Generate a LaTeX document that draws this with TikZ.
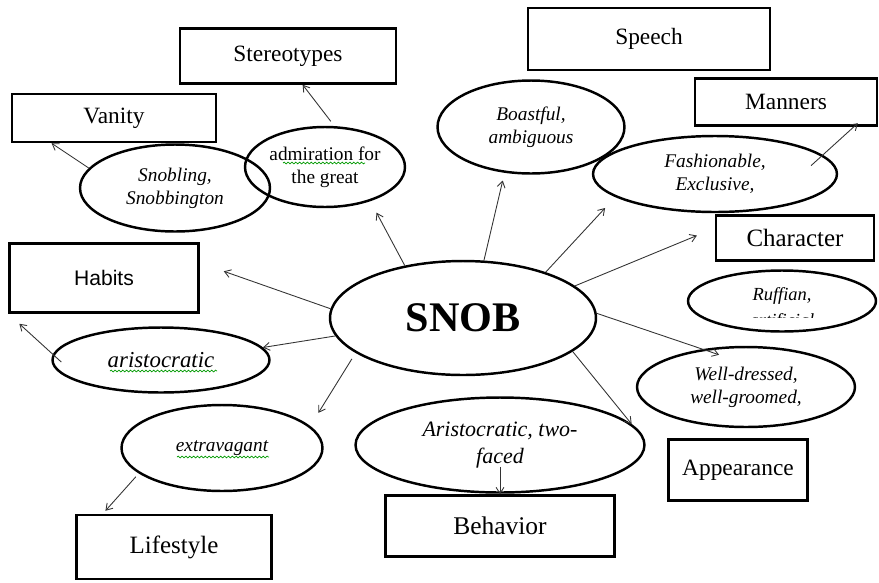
\documentclass[tikz,border=0pt]{standalone}
\usepackage{fontspec}
\setmainfont{Liberation Serif}
\newfontfamily\arialfont{Liberation Sans}
\usetikzlibrary{shapes.geometric,arrows.meta,decorations.pathmorphing}

\begin{document}
\begin{tikzpicture}[
    x=0.02cm, y=-0.02cm,
    every node/.style={inner sep=0pt},
    cat/.style={draw, rectangle, line width=1.4pt, font=\fontsize{13.3}{16}\selectfont},
    trait/.style={draw, ellipse, line width=1.4pt, align=center, font=\fontsize{11}{13}\selectfont\itshape},
    link/.style={->, draw=black!80, line width=0.5pt},
    wavy/.style={draw=green!60!black, line width=0.4pt, decorate, decoration={snake, amplitude=0.5pt, segment length=2.2pt}},
    >={Straight Barb[length=3.5pt,width=4.5pt]}
  ]
  \useasboundingbox (0,0) rectangle (879,582);

  % categories
  \node[cat, minimum width=4.08cm, minimum height=0.96cm] (vanity) at (114,118) {Vanity};
  \node[cat, minimum width=4.32cm, minimum height=1.1cm] (stereo) at (288,56) {Stereotypes};
  \node[cat, minimum width=4.84cm, minimum height=1.24cm] (speech) at (649,39) {Speech};
  \node[cat, minimum width=3.64cm, minimum height=0.94cm] (manners) at (786,102) {Manners};
  \node[cat, minimum width=3.16cm, minimum height=0.9cm, font=\fontsize{14.2}{17}\selectfont] (character) at (795,238) {Character};
  \node[cat, minimum width=3.78cm, minimum height=1.38cm, font=\arialfont\fontsize{12}{14}\selectfont] (habits) at (104,278) {Habits};
  \node[cat, minimum width=3.9cm, minimum height=1.28cm, font=\fontsize{14.2}{17}\selectfont] (lifestyle) at (174,547) {Lifestyle};
  \node[cat, minimum width=4.58cm, minimum height=1.22cm, font=\fontsize{14.5}{17}\selectfont] (behavior) at (500,526) {Behavior};
  \node[cat, minimum width=2.78cm, minimum height=1.22cm] (appearance) at (738,470) {Appearance};

  % traits
  \node[trait, minimum width=3.8cm, minimum height=1.74cm] (snobling) at (175,188) {Snobling,\\Snobbington};
  \node[trait, minimum width=3.2cm, minimum height=1.6cm, font=\fontsize{11}{13}\selectfont] (admir) at (325,167) {admiration for\\the great};
  \node[trait, minimum width=3.74cm, minimum height=1.86cm] (boast) at (531,127) {Boastful,\\ambiguous};
  \node[trait, minimum width=4.88cm, minimum height=1.52cm] (fashion) at (715,174) {Fashionable,\\Exclusive,};
  \node[trait, minimum width=3.76cm, minimum height=1.22cm] (ruffian) at (782,301) {};
  \node[trait, minimum width=4.36cm, minimum height=1.6cm] (welldr) at (746,387) {Well-dressed,\\well-groomed,};
  \node[trait, minimum width=4.34cm, minimum height=1.3cm, font=\fontsize{13}{15}\selectfont\itshape] (aristo) at (161,360) {aristocratic};
  \node[trait, minimum width=4.02cm, minimum height=1.72cm] (extrav) at (222,448) {extravagant};
  \node[trait, minimum width=5.78cm, minimum height=1.9cm, font=\fontsize{12.5}{15}\selectfont\itshape] (twofaced) at (500,445) {Aristocratic, two-\\faced};
  \node[trait, minimum width=5.32cm, minimum height=2.28cm, font=\fontsize{24}{28}\selectfont\bfseries] (snob) at (463,318) {SNOB};

  % ruffian text, second line cut off
  \node[font=\fontsize{10.5}{13}\selectfont\itshape] (ruffname) at (782,296) {Ruffian,};
  \begin{scope}
    \clip (690,300) rectangle (876,317);
    \node[font=\fontsize{10.5}{13}\selectfont\itshape] (artif) at (782,322) {artificial};
  \end{scope}

  % spelling marks
  \draw[wavy] (283,163) -- (365,163);
  \draw[wavy] (110,371) -- (217,371);
  \draw[wavy] (177,457) -- (269,457);

  % links
  \draw[link] (snobling.167) -- (vanity.202);
  \draw[link, shorten <=3.4pt] (admir.77) -- (stereo.-63);
  \draw[link, shorten >=7.4pt] (snob.138) -- (admir.-37);
  \draw[link, shorten >=4.5pt] (snob.70) -- (boast.240);
  \draw[link, shorten >=8.5pt] (snob.29) -- (fashion.193);
  \draw[link, shorten >=11pt] (snob.16) -- (character.173);
  \draw[link, shorten >=-10pt] (snob.2) -- (welldr.139);
  \draw[link] (snob.-17) -- (twofaced.9);
  \draw[link, shorten <=-9pt, shorten >=-3pt] (fashion.10) -- (manners.-20);
  \draw[link, shorten >=14.5pt] (snob.176) -- (habits.9);
  \draw[link] (snob.188) -- (aristo.7);
  \draw[link, shorten <=-6.5pt, shorten >=8.5pt] (aristo.177) -- (habits.south west);
  \draw[link, shorten <=4pt, shorten >=8.8pt] (snob.198) -- (extrav.14);
  \draw[link, shorten <=2.5pt, shorten >=2.3pt] (extrav.197) -- (lifestyle.155);
  \draw[link, shorten <=12.5pt] (twofaced.center) -- (behavior.north);
\end{tikzpicture}
\end{document}
